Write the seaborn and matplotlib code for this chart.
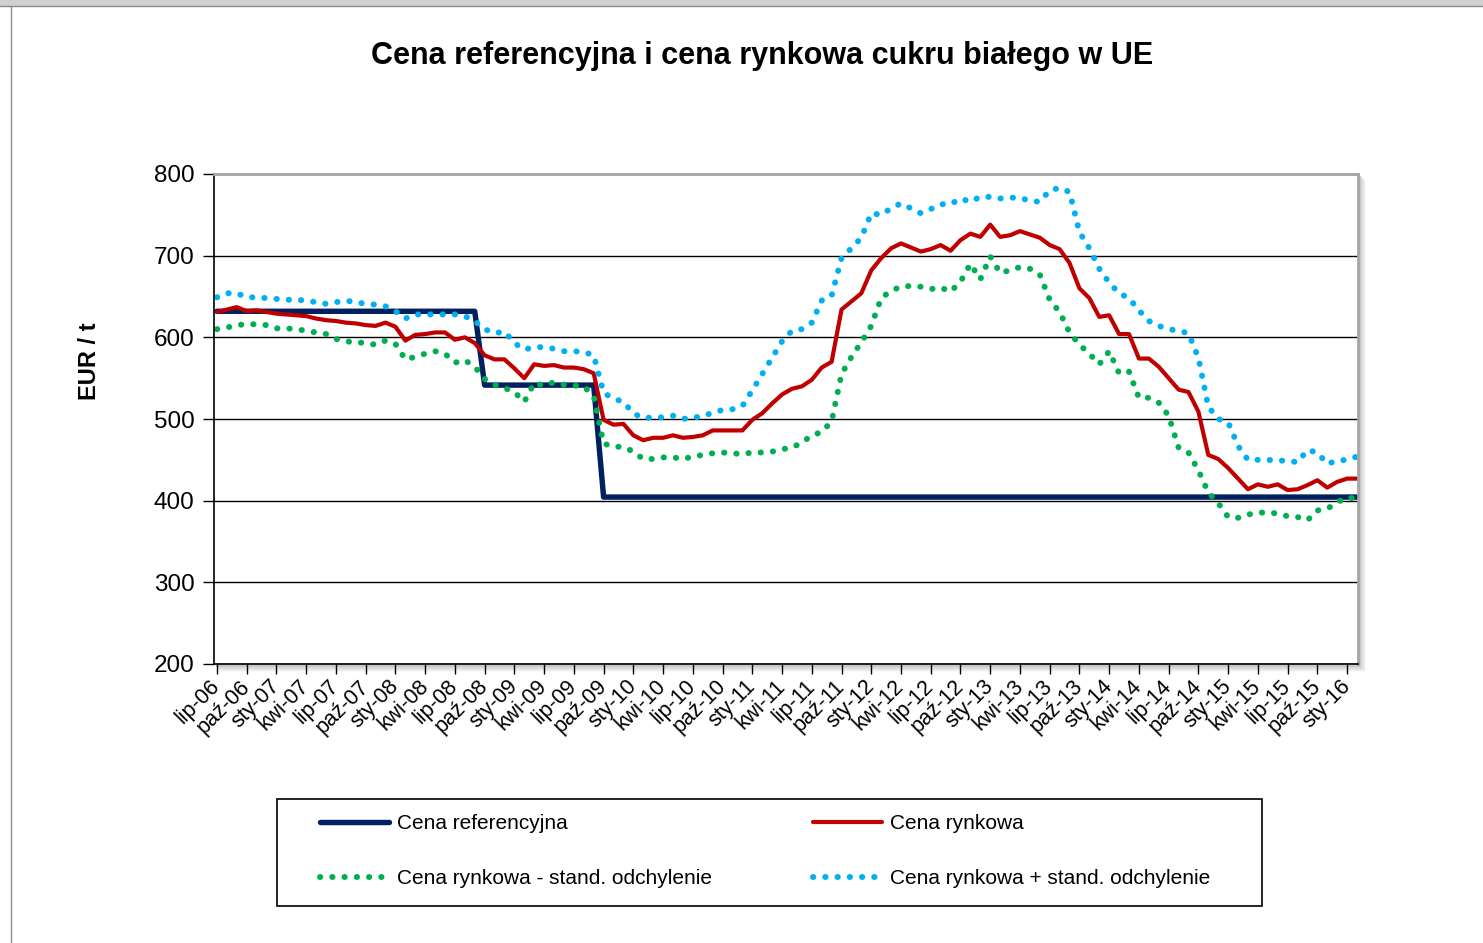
import seaborn as sns
import matplotlib.pyplot as plt
import pandas as pd
from matplotlib.patches import Rectangle
from matplotlib.lines import Line2D

# monthly data, lip-06 .. lut-16 (116 months)
months = list(range(116))

tick_labels = ['lip-06', 'paź-06', 'sty-07', 'kwi-07', 'lip-07', 'paź-07', 'sty-08', 'kwi-08',
               'lip-08', 'paź-08', 'sty-09', 'kwi-09', 'lip-09', 'paź-09', 'sty-10', 'kwi-10',
               'lip-10', 'paź-10', 'sty-11', 'kwi-11', 'lip-11', 'paź-11', 'sty-12', 'kwi-12',
               'lip-12', 'paź-12', 'sty-13', 'kwi-13', 'lip-13', 'paź-13', 'sty-14', 'kwi-14',
               'lip-14', 'paź-14', 'sty-15', 'kwi-15', 'lip-15', 'paź-15', 'sty-16']

# reference price: 631.9 until wrz-08, 541.5 until wrz-09, then 404.4
ref_price = [631.9] * 27 + [541.5] * 12 + [404.4] * 77

market = [631, 634, 637, 632, 633, 631, 629, 628, 627, 626,
          623, 621, 620, 618, 617, 615, 614, 618, 613, 596,
          603, 604, 606, 606, 597, 600, 593, 578, 573, 573,
          562, 550, 567, 565, 566, 563, 563, 561, 556, 499,
          493, 494, 480, 474, 477, 477, 480, 477, 478, 480,
          486, 486, 486, 486, 499, 507, 519, 530, 537, 540,
          548, 563, 570, 634, 644, 654, 682, 697, 709, 715,
          710, 705, 708, 713, 706, 719, 727, 723, 738, 723,
          725, 730, 726, 722, 713, 708, 691, 660, 648, 625,
          627, 604, 604, 574, 574, 564, 550, 536, 533, 509,
          456, 451, 440, 427, 414, 420, 417, 420, 413, 414,
          419, 425, 416, 423, 427, 427]

market_minus_sd = [610, 612, 615, 616, 616, 615, 611, 611, 610, 608,
                   606, 604, 598, 595, 594, 593, 591, 596, 592, 573,
                   576, 580, 583, 580, 569, 572, 564, 549, 542, 538,
                   533, 521, 544, 541, 545, 542, 541, 540, 528, 470,
                   466, 466, 460, 451, 451, 453, 453, 451, 454, 456,
                   458, 459, 458, 457, 459, 459, 460, 463, 465, 471,
                   480, 484, 497, 555, 576, 594, 614, 648, 657, 662,
                   663, 662, 659, 661, 656, 668, 690, 671, 699, 679,
                   682, 686, 684, 677, 646, 631, 606, 591, 580, 567,
                   583, 556, 558, 526, 526, 520, 504, 465, 459, 437,
                   410, 397, 380, 379, 383, 385, 386, 384, 381, 380,
                   376, 388, 390, 398, 404, 402]

market_plus_sd = [649, 654, 654, 649, 649, 648, 647, 646, 646, 645,
                  643, 641, 643, 645, 643, 641, 640, 638, 632, 623,
                  628, 628, 628, 628, 628, 626, 620, 610, 605, 607,
                  593, 585, 588, 588, 586, 583, 583, 582, 578, 532,
                  525, 521, 507, 501, 502, 502, 504, 500, 502, 503,
                  508, 511, 512, 516, 535, 555, 575, 595, 608, 610,
                  618, 645, 651, 697, 709, 722, 752, 750, 758, 764,
                  758, 752, 757, 763, 763, 770, 766, 772, 772, 770,
                  771, 771, 767, 766, 780, 783, 778, 729, 709, 684,
                  667, 654, 648, 633, 620, 614, 610, 608, 605, 575,
                  515, 500, 496, 467, 450, 450, 450, 449, 449, 447,
                  462, 459, 445, 449, 450, 454]

df = pd.DataFrame({'month': months, 'ref': ref_price, 'market': market,
                   'minus': market_minus_sd, 'plus': market_plus_sd})

NAVY, RED, GREEN, BLUE = '#002060', '#C00000', '#00B050', '#00B0F0'
DOT = (0, (0.05, 2.0))
DOT_LW = 4.3

sns.set_theme(style="white")
plt.rcParams['font.family'] = ['Liberation Sans', 'DejaVu Sans']
plt.rcParams['text.color'] = 'black'
plt.rcParams['xtick.color'] = 'black'
plt.rcParams['ytick.color'] = 'black'

W, H = 1483, 943
fig = plt.figure(figsize=(W / 100, H / 100), dpi=100)
fx = lambda px: px / W
fy = lambda py: 1 - py / H

# screenshot frame bits
fig.patches.append(Rectangle((0, fy(5)), 1, fy(0) - fy(5), transform=fig.transFigure,
                             color='#d0d0d0', zorder=-5))
fig.lines.append(Line2D([0, 1], [fy(5.5), fy(5.5)], transform=fig.transFigure, color='#8c8c8c', lw=1))
fig.lines.append(Line2D([fx(10.5), fx(10.5)], [0, fy(5.5)], transform=fig.transFigure, color='#8c8c8c', lw=1))

# plot area shadow
for off, col in [(6, '#ececec'), (4, '#dcdcdc'), (2, '#c8c8c8')]:
    fig.patches.append(Rectangle((fx(214 + off), fy(664 + off)), fx(1358) - fx(214), fy(174) - fy(664),
                                 transform=fig.transFigure, color=col, zorder=-2))

ax = fig.add_axes([fx(214), fy(664), fx(1358) - fx(214), fy(174) - fy(664)])
ax.set_facecolor('white')

sns.lineplot(data=df, x='month', y='ref', ax=ax, color=NAVY, lw=3.9)
sns.lineplot(data=df, x='month', y='market', ax=ax, color=RED, lw=3.0)
sns.lineplot(data=df, x='month', y='minus', ax=ax, color=GREEN, lw=DOT_LW,
             linestyle=DOT, dash_capstyle='round')
sns.lineplot(data=df, x='month', y='plus', ax=ax, color=BLUE, lw=DOT_LW,
             linestyle=DOT, dash_capstyle='round')

ax.set_xlim(-0.3, 115.1)
ax.set_ylim(200, 800)
ax.set_yticks(range(200, 801, 100))
ax.set_xticks(range(0, 115, 3))
ax.set_xticklabels(tick_labels, rotation=45, ha='right', va='center', rotation_mode='anchor')
ax.set_xlabel('')
ax.set_ylabel('')
ax.grid(axis='y', color='black', lw=1.0)
ax.grid(axis='x', visible=False)

for side in ['left', 'bottom']:
    ax.spines[side].set_color('black')
    ax.spines[side].set_linewidth(1.2)
for side in ['top', 'right']:
    ax.spines[side].set_color('#a6a6a6')
    ax.spines[side].set_linewidth(2.0)

ax.tick_params(axis='y', direction='out', length=8, width=1, color='black',
               labelsize=17.5, pad=6, left=True)
ax.tick_params(axis='x', direction='out', length=7, width=1, color='black',
               labelsize=15.5, pad=7, bottom=True)

fig.text(fx(762), fy(56), 'Cena referencyjna i cena rynkowa cukru białego w UE',
         ha='center', va='center', fontsize=22, fontweight='bold')
fig.text(fx(90), fy(361), 'EUR / t', rotation=90, ha='center', va='center',
         fontsize=17, fontweight='bold')

# legend box + two columns
fig.patches.append(Rectangle((fx(277), fy(906)), fx(1262) - fx(277), fy(799) - fy(906),
                             transform=fig.transFigure, fill=False, edgecolor='black', lw=1.2))

h_ref = Line2D([], [], color=NAVY, lw=3.9)
h_mkt = Line2D([], [], color=RED, lw=3.0)
h_min = Line2D([], [], color=GREEN, lw=DOT_LW, linestyle=DOT, dash_capstyle='round')
h_pls = Line2D([], [], color=BLUE, lw=DOT_LW, linestyle=DOT, dash_capstyle='round')

leg_kw = dict(loc='upper left', frameon=False, fontsize=15, handlelength=3.3,
              handletextpad=0.4, labelspacing=1.75, borderpad=0, borderaxespad=0)
fig.legend(handles=[h_ref, h_min], labels=['Cena referencyjna', 'Cena rynkowa - stand. odchylenie'],
           bbox_to_anchor=(fx(320), fy(814)), **leg_kw)
fig.legend(handles=[h_mkt, h_pls], labels=['Cena rynkowa', 'Cena rynkowa + stand. odchylenie'],
           bbox_to_anchor=(fx(813), fy(814)), **leg_kw)

fig.savefig('out.png', dpi=100)
